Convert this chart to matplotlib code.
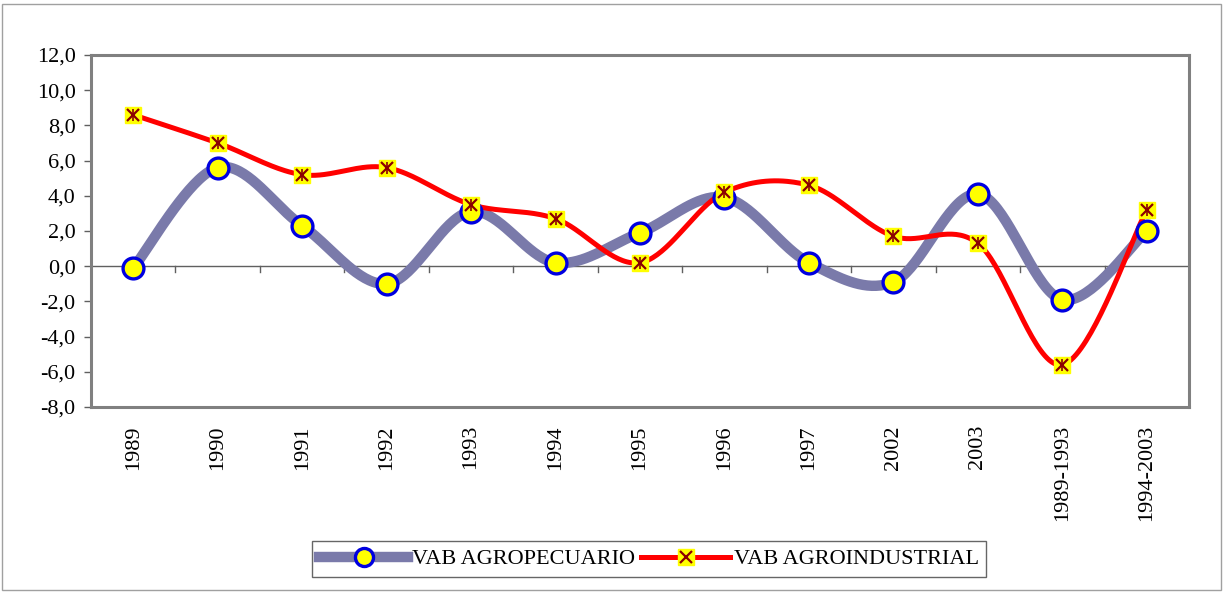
import numpy as np
import matplotlib
matplotlib.use('Agg')
import matplotlib.pyplot as plt
from matplotlib.lines import Line2D

categories = ['1989', '1990', '1991', '1992', '1993', '1994', '1995', '1996',
              '1997', '2002', '2003', '1989-1993', '1994-2003']
agropecuario = [-0.1, 5.6, 2.3, -1.0, 3.1, 0.2, 1.9, 3.9, 0.2, -0.9, 4.1, -1.9, 2.0]
agroindustrial = [8.6, 7.0, 5.2, 5.6, 3.5, 2.7, 0.2, 4.2, 4.6, 1.7, 1.3, -5.6, 3.2]
yticks = [-8, -6, -4, -2, 0, 2, 4, 6, 8, 10, 12]

plt.rcParams['font.family'] = 'serif'
plt.rcParams['font.serif'] = ['Liberation Serif', 'Times New Roman', 'DejaVu Serif']


def smooth(x, y, n=40):
    # bezier segments like the excel smoothed line
    x = np.asarray(x, float)
    y = np.asarray(y, float)
    px = np.concatenate([[x[0]], x, [x[-1]]])
    py = np.concatenate([[y[0]], y, [y[-1]]])
    xs, ys = [], []
    t = np.linspace(0, 1, n)
    for i in range(1, len(px) - 2):
        p0 = np.array([px[i], py[i]])
        p3 = np.array([px[i + 1], py[i + 1]])
        p1 = p0 + (np.array([px[i + 1], py[i + 1]]) - np.array([px[i - 1], py[i - 1]])) / 6
        p2 = p3 - (np.array([px[i + 2], py[i + 2]]) - np.array([px[i], py[i]])) / 6
        b = ((1 - t) ** 3)[:, None] * p0 + (3 * (1 - t) ** 2 * t)[:, None] * p1 \
            + (3 * (1 - t) * t ** 2)[:, None] * p2 + (t ** 3)[:, None] * p3
        xs.extend(b[:, 0])
        ys.extend(b[:, 1])
    return xs, ys


fig = plt.figure(figsize=(12.25, 5.92), dpi=100)
fig.patches.append(plt.Rectangle((0.002, 0.003), 0.995, 0.99, transform=fig.transFigure,
                                 fill=False, edgecolor='#a0a0a0', linewidth=1))
ax = fig.add_axes([0.0743, 0.3125, 0.8963, 0.5946])

x = np.arange(len(categories))
gray = '#7a7aaa'

ax.axhline(0, color='#606060', linewidth=1, zorder=1)
for b in x[:-1] + 0.5:
    ax.plot([b, b], [0, -0.35], color='#606060', linewidth=1, zorder=1)

sx, sy = smooth(x, agropecuario)
ax.plot(sx, sy, color=gray, linewidth=7.5, solid_capstyle='round', zorder=2)
sx, sy = smooth(x, agroindustrial)
ax.plot(sx, sy, color='red', linewidth=3.6, solid_capstyle='round', zorder=3)

ax.plot(x, agropecuario, linestyle='none', marker='o', markersize=15,
        markerfacecolor='yellow', markeredgecolor='#0000e0', markeredgewidth=2.4, zorder=4)
ax.plot(x, agroindustrial, linestyle='none', marker='s', markersize=11,
        markerfacecolor='yellow', markeredgecolor='yellow', zorder=5)
ax.plot(x, agroindustrial, linestyle='none', marker='x', markersize=9,
        markeredgecolor='#8b0000', markeredgewidth=1.6, zorder=6)
ax.plot(x, agroindustrial, linestyle='none', marker='|', markersize=9,
        markeredgecolor='#8b0000', markeredgewidth=1.2, zorder=6)

ax.set_xlim(-0.5, len(categories) - 0.5)
ax.set_ylim(-8, 12)
ax.set_yticks(yticks)
ax.set_yticklabels([('%.1f' % v).replace('.', ',') for v in yticks], fontsize=16)
ax.set_xticks(x)
ax.set_xticklabels(categories, rotation=90, fontsize=16)
ax.tick_params(axis='x', length=0, pad=13)
ax.tick_params(axis='y', length=5, width=1, color='#606060', pad=6)
for s in ax.spines.values():
    s.set_color('#808080')
    s.set_linewidth(2.2)

h1 = Line2D([], [], color=gray, linewidth=7.5, marker='o', markersize=13,
            markerfacecolor='yellow', markeredgecolor='#0000e0', markeredgewidth=2.4)
h2a = Line2D([], [], color='red', linewidth=3.6, marker='s', markersize=11,
             markerfacecolor='yellow', markeredgecolor='yellow')
h2b = Line2D([], [], linestyle='none', marker='x', markersize=9,
             markeredgecolor='#8b0000', markeredgewidth=1.6)
fig.legend([h1, (h2a, h2b)], ['VAB AGROPECUARIO', 'VAB AGROINDUSTRIAL'],
           loc='center', bbox_to_anchor=(0.5298, 0.0557), ncol=2, fontsize=16,
           frameon=True, fancybox=False, edgecolor='#404040', handlelength=4.0,
           handletextpad=0.15, columnspacing=0.3, borderpad=0.35, numpoints=1)

fig.savefig('out.png', dpi=100)
